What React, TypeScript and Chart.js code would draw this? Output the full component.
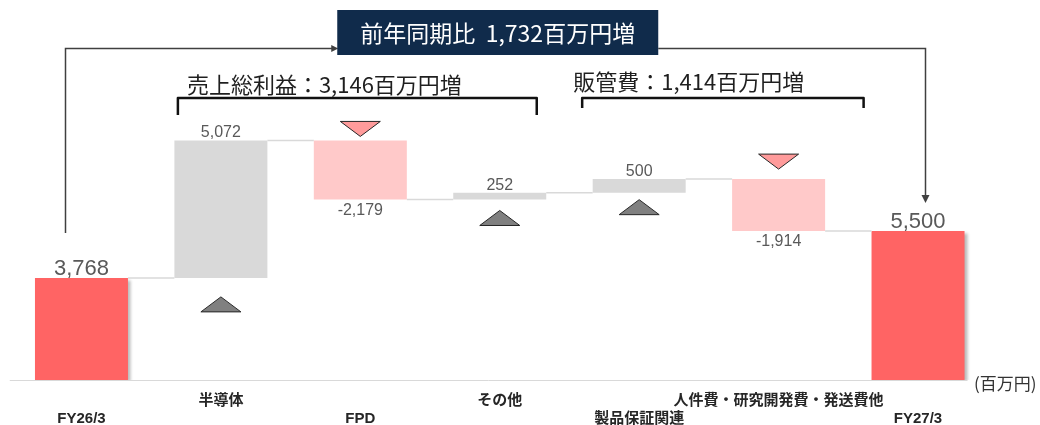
import { useEffect, useRef } from 'react';
import { Chart, registerables } from 'chart.js';

Chart.register(...registerables);

// ---------- data ----------
const categories = ['FY26/3', '半導体', 'FPD', 'その他', '製品保証関連', '人件費・研究開発費・発送費他', 'FY27/3'];
const values = [3768, 5072, -2179, 252, 500, -1914, 5500];
const isTotal = [true, false, false, false, false, false, true];
const yoyLabel = '前年同期比  1,732百万円増';
const grossProfitLabel = '売上総利益：3,146百万円増';
const sgaLabel = '販管費：1,414百万円増';
const unitLabel = '(百万円)';
const yMin = 0;
const yMax = 10000;

// ---------- styles ----------
const TOTAL_COLOR = '#FF6464';
const UP_COLOR = '#D9D9D9';
const DOWN_COLOR = '#FFC9C9';
const LABEL_COLOR = '#595959';
const LINE_COLOR = '#404040';
const NAVY = '#102B4B';
const JP = '"Noto Sans CJK JP", "Noto Sans", sans-serif';
const LAT = '"Liberation Sans", Arial, "Noto Sans CJK JP", sans-serif';
const markerGap = [0, 19, 4, 11, 7, 10, 0];

function buildRanges(): [number, number][] {
  let run = 0;
  return values.map((v, i) => {
    if (isTotal[i]) {
      run = v;
      return [0, v] as [number, number];
    }
    const s = run;
    run += v;
    return [s, run] as [number, number];
  });
}

const fmt = (v: number) => v.toLocaleString('en-US');

const decorPlugin = {
  id: 'waterfallDecor',
  beforeDatasetsDraw(chart: any) {
    const ctx = chart.ctx;
    const x = chart.scales.x;
    const y = chart.scales.y;
    const barW = chart.getDatasetMeta(0).data[0].width;
    const y0 = Math.round(y.getPixelForValue(0)) + 0.5;
    ctx.save();
    ctx.strokeStyle = '#D9D9D9';
    ctx.lineWidth = 1;
    ctx.beginPath();
    ctx.moveTo(chart.chartArea.left - 2, y0);
    ctx.lineTo(x.getPixelForValue(categories.length - 1) + barW / 2 + 3, y0);
    ctx.stroke();
    ctx.restore();
  },
  beforeDatasetDraw(chart: any, args: any) {
    if (args.index === 0) {
      const c = chart.ctx;
      c.save();
      c.shadowColor = 'rgba(0,0,0,0.28)';
      c.shadowOffsetX = 3;
      c.shadowOffsetY = 2;
      c.shadowBlur = 3;
    }
  },
  afterDatasetDraw(chart: any, args: any) {
    if (args.index === 0) chart.ctx.restore();
  },
  afterDraw(chart: any) {
    const ctx: CanvasRenderingContext2D = chart.ctx;
    const x = chart.scales.x;
    const y = chart.scales.y;
    const ranges = buildRanges();
    const barW = chart.getDatasetMeta(0).data[0].width;
    const cx = (i: number) => x.getPixelForValue(i);
    const n = categories.length;
    ctx.save();

    // connectors
    ctx.strokeStyle = '#D9D9D9';
    ctx.lineWidth = 1.5;
    for (let i = 0; i < n - 1; i++) {
      const py = y.getPixelForValue(ranges[i][1]);
      ctx.beginPath();
      ctx.moveTo(cx(i) + barW / 2, py);
      ctx.lineTo(cx(i + 1) - barW / 2, py);
      ctx.stroke();
    }

    // value labels + markers
    for (let i = 0; i < n; i++) {
      const [s, e] = ranges[i];
      const top = y.getPixelForValue(Math.max(s, e));
      const bot = y.getPixelForValue(Math.min(s, e));
      ctx.fillStyle = LABEL_COLOR;
      ctx.textAlign = 'center';
      if (isTotal[i]) {
        ctx.font = `22px ${LAT}`;
        ctx.textBaseline = 'alphabetic';
        ctx.fillText(fmt(values[i]), cx(i), top - 3);
        continue;
      }
      ctx.font = `16px ${LAT}`;
      if (values[i] >= 0) {
        ctx.textBaseline = 'alphabetic';
        ctx.fillText(fmt(values[i]), cx(i), top - 3);
        const t = bot + markerGap[i];
        ctx.beginPath();
        ctx.moveTo(cx(i), t);
        ctx.lineTo(cx(i) + 20, t + 15);
        ctx.lineTo(cx(i) - 20, t + 15);
        ctx.closePath();
        ctx.fillStyle = '#808080';
        ctx.fill();
        ctx.strokeStyle = '#262626';
        ctx.lineWidth = 1;
        ctx.stroke();
      } else {
        ctx.textBaseline = 'top';
        ctx.fillText(fmt(values[i]), cx(i), bot + 3);
        const b = top - markerGap[i];
        ctx.beginPath();
        ctx.moveTo(cx(i), b);
        ctx.lineTo(cx(i) + 20, b - 15);
        ctx.lineTo(cx(i) - 20, b - 15);
        ctx.closePath();
        ctx.fillStyle = '#FF9B9B';
        ctx.fill();
        ctx.strokeStyle = '#262626';
        ctx.lineWidth = 1;
        ctx.stroke();
      }
    }

    // YoY box
    const boxW = 321;
    const boxH = 45;
    const boxTop = 10;
    const boxLeft = cx(3) - 2 - boxW / 2;
    const boxRight = boxLeft + boxW;
    const lineY = 48.5;

    ctx.strokeStyle = LINE_COLOR;
    ctx.fillStyle = LINE_COLOR;
    ctx.lineWidth = 1.5;
    const xL = Math.round(cx(0) - 16) + 0.5;
    const yLBottom = y.getPixelForValue(values[0]) - 45;
    ctx.beginPath();
    ctx.moveTo(xL, yLBottom);
    ctx.lineTo(xL, lineY);
    ctx.lineTo(boxLeft - 4, lineY);
    ctx.stroke();
    ctx.beginPath();
    ctx.moveTo(boxLeft + 1, lineY);
    ctx.lineTo(boxLeft - 6, lineY - 3.5);
    ctx.lineTo(boxLeft - 6, lineY + 3.5);
    ctx.closePath();
    ctx.fill();

    const xR = Math.round(cx(n - 1) + 7) + 0.5;
    const tipY = y.getPixelForValue(values[n - 1]) - 28;
    ctx.beginPath();
    ctx.moveTo(boxRight, lineY);
    ctx.lineTo(xR, lineY);
    ctx.lineTo(xR, tipY - 6);
    ctx.stroke();
    ctx.beginPath();
    ctx.moveTo(xR, tipY);
    ctx.lineTo(xR - 4, tipY - 8);
    ctx.lineTo(xR + 4, tipY - 8);
    ctx.closePath();
    ctx.fill();

    ctx.fillStyle = NAVY;
    ctx.fillRect(boxLeft, boxTop, boxW, boxH);
    ctx.fillStyle = '#FFFFFF';
    ctx.font = `23px ${JP}`;
    ctx.textAlign = 'center';
    ctx.textBaseline = 'middle';
    ctx.fillText(yoyLabel, boxLeft + boxW / 2, boxTop + boxH / 2 + 1);

    // brackets
    ctx.strokeStyle = '#111111';
    ctx.lineWidth = 2.5;
    ctx.lineJoin = 'round';
    const b1L = cx(1) - 43;
    const b1R = cx(3) + 37;
    ctx.beginPath();
    ctx.moveTo(b1L, 115);
    ctx.lineTo(b1L, 98);
    ctx.lineTo(b1R, 98);
    ctx.lineTo(b1R, 115);
    ctx.stroke();
    const b2L = cx(4) - 57;
    const b2R = cx(5) + 85;
    ctx.beginPath();
    ctx.moveTo(b2L, 108);
    ctx.lineTo(b2L, 98);
    ctx.lineTo(b2R, 98);
    ctx.lineTo(b2R, 108);
    ctx.stroke();

    ctx.fillStyle = '#1F1F1F';
    ctx.font = `22px ${JP}`;
    ctx.textAlign = 'left';
    ctx.textBaseline = 'middle';
    ctx.fillText(grossProfitLabel, b1L + 9, 85);
    ctx.fillText(sgaLabel, b2L - 9, 82);

    // unit
    ctx.fillStyle = '#333333';
    ctx.font = `17px ${JP}`;
    ctx.fillText(unitLabel, 974, 384);

    ctx.restore();
  },
};

export default function App() {
  const ref = useRef<HTMLCanvasElement>(null);
  useEffect(() => {
    const ranges = buildRanges();
    const chart = new Chart(ref.current as HTMLCanvasElement, {
      type: 'bar',
      data: {
        labels: categories,
        datasets: [
          {
            data: ranges.map((r, i) => (isTotal[i] ? r : null)) as any,
            backgroundColor: TOTAL_COLOR,
            borderWidth: 0,
            grouped: false,
            barPercentage: 0.667,
            categoryPercentage: 1,
          },
          {
            data: ranges.map((r, i) => (isTotal[i] ? null : r)) as any,
            backgroundColor: values.map((v) => (v >= 0 ? UP_COLOR : DOWN_COLOR)),
            borderWidth: 0,
            grouped: false,
            barPercentage: 0.667,
            categoryPercentage: 1,
          },
        ],
      },
      options: {
        animation: false,
        responsive: false,
        layout: { padding: { top: 109, left: 11.75, right: 52.25, bottom: 0 } },
        plugins: { legend: { display: false }, tooltip: { enabled: false } },
        scales: {
          x: {
            type: 'category',
            offset: true,
            grid: { display: false, drawTicks: false },
            border: { display: false },
            ticks: {
              autoSkip: false,
              maxRotation: 0,
              minRotation: 0,
              padding: 12,
              color: '#262626',
              font: { family: LAT, size: 15, weight: 'bold', lineHeight: 1.2 },
              callback: (_v: any, i: number) => (i % 2 === 0 ? ['', categories[i]] : [categories[i], '']),
            },
          },
          y: { display: false, min: yMin, max: yMax },
        },
      },
      plugins: [decorPlugin],
    });
    return () => chart.destroy();
  }, []);
  return (
    <div style={{ position: 'fixed', left: 0, top: 0, width: 1040, height: 425, overflow: 'hidden', background: '#fff' }}>
      <canvas ref={ref} width={1040} height={440} style={{ display: 'block', width: 1040, height: 440 }} />
    </div>
  );
}
